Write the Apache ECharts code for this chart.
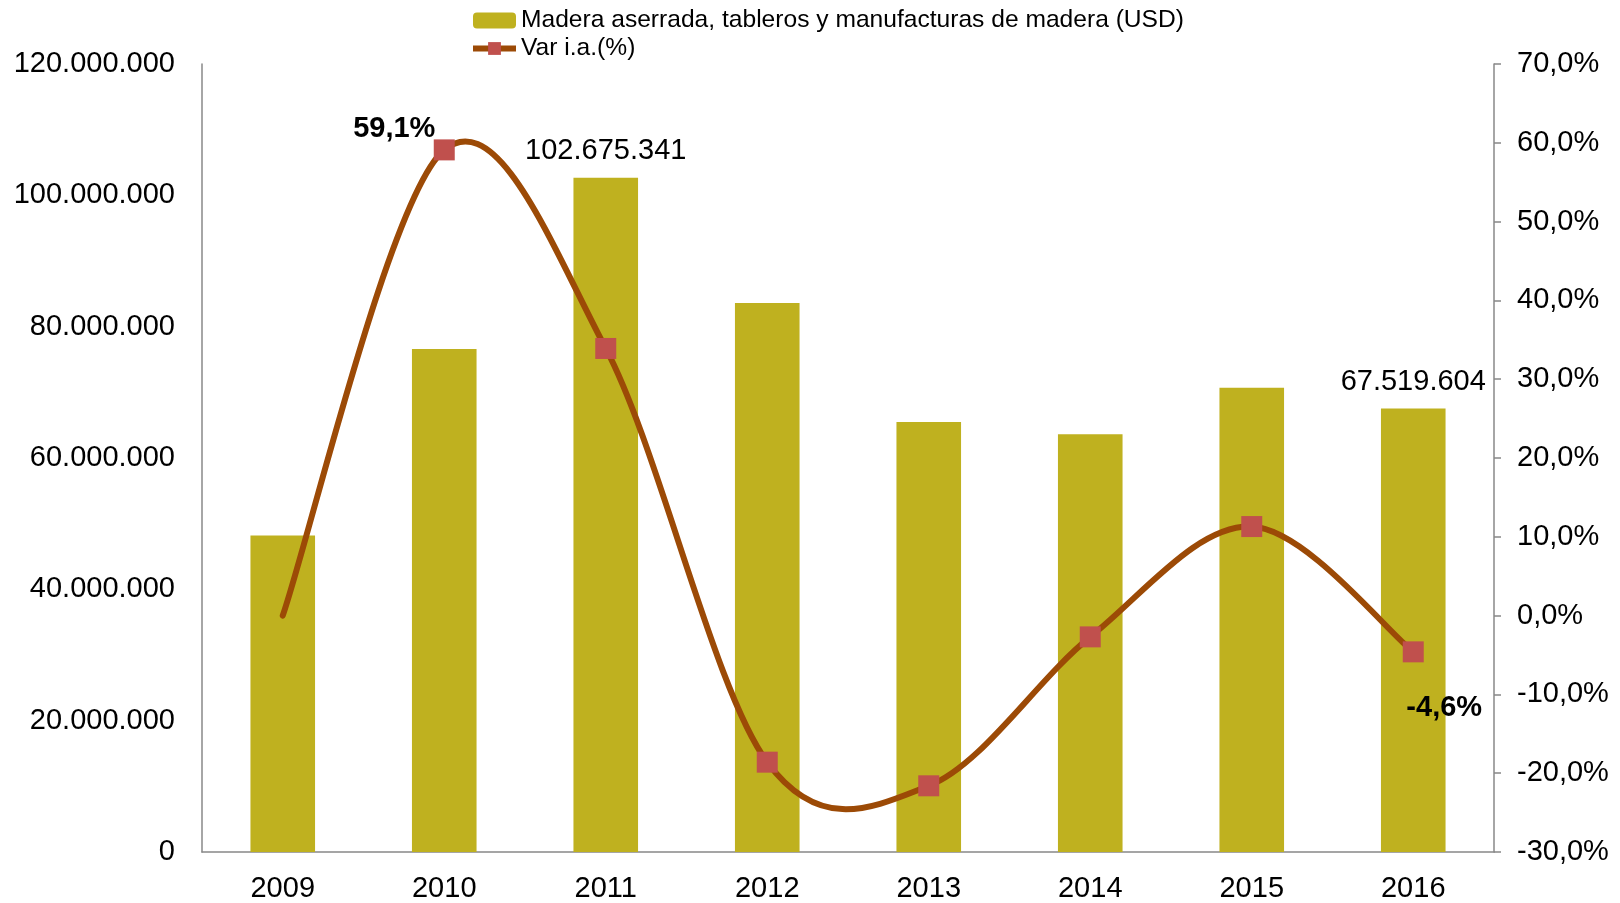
<!DOCTYPE html>
<html lang="es">

<head>
    <meta charset="UTF-8">
    <title>Madera aserrada, tableros y manufacturas de madera</title>
    <script src="https://cdn.jsdelivr.net/npm/echarts@6/dist/echarts.min.js"></script>
    <style>
        html, body { margin: 0; padding: 0; background: #fff; }
        #chart { width: 1620px; height: 903px; }
    </style>
</head>

<body>
    <div id="chart"></div>

    <script>
        // datos
        var years = ['2009', '2010', '2011', '2012', '2013', '2014', '2015', '2016'];
        var exportsUsd = [48200000, 76600000, 102675341, 83600000, 65500000, 63600000, 70700000, 67519604];
        var varPct = [0, 59.1, 33.9, -18.6, -21.6, -2.7, 11.3, -4.6];
        var barName = 'Madera aserrada, tableros y manufacturas de madera (USD)';
        var lineName = 'Var i.a.(%)';

        // puntos de miles con "." y decimal con ","
        function miles(v) {
            return String(Math.round(v)).replace(/\B(?=(\d{3})+(?!\d))/g, '.');
        }
        function pct(v) {
            return v.toFixed(1).replace('.', ',') + '%';
        }

        var font = 'Liberation Sans, Arial, sans-serif';
        var lineColor = '#9C4A06';
        var myChart = echarts.init(document.getElementById('chart'));

        // etiquetas solo en algunos puntos
        var barData = exportsUsd.map(function (v, i) {
            var item = { value: v };
            if (i === 2 || i === 7) {
                item.label = { show: true };
            }
            return item;
        });
        var lineData = varPct.map(function (v, i) {
            var item = { value: v };
            if (i === 0) item.symbol = 'none';
            if (i === 1) item.label = { show: true, position: 'top', offset: [-50, 9] };
            if (i === 7) item.label = { show: true, position: 'bottom', offset: [31, 26] };
            return item;
        });

        // curva suavizada tipo Excel (Catmull-Rom), pasa por las escalas del eje
        function renderCurve(params, api) {
            if (params.dataIndex !== 0) return null;
            var pts = varPct.map(function (v, i) { return api.coord([i, v]); });
            var n = pts.length;
            var d = 'M' + pts[0][0] + ' ' + pts[0][1];
            for (var i = 0; i < n - 1; i++) {
                var p0 = pts[Math.max(i - 1, 0)];
                var p1 = pts[i];
                var p2 = pts[i + 1];
                var p3 = pts[Math.min(i + 2, n - 1)];
                var c1x = p1[0] + (p2[0] - p0[0]) / 6;
                var c1y = p1[1] + (p2[1] - p0[1]) / 6;
                var c2x = p2[0] - (p3[0] - p1[0]) / 6;
                var c2y = p2[1] - (p3[1] - p1[1]) / 6;
                d += ' C' + c1x + ' ' + c1y + ' ' + c2x + ' ' + c2y + ' ' + p2[0] + ' ' + p2[1];
            }
            return {
                type: 'path',
                shape: { pathData: d },
                style: { fill: 'none', stroke: lineColor, lineWidth: 6, lineCap: 'round', lineJoin: 'round' }
            };
        }

        var option = {
            animation: false,
            textStyle: { fontFamily: font },
            legend: {
                orient: 'vertical',
                left: 465,
                top: 3,
                itemWidth: 43,
                itemHeight: 16,
                itemGap: 3,
                textStyle: { fontSize: 24.6, color: '#000', fontFamily: font },
                data: [
                    barName,
                    { name: lineName, lineStyle: { color: lineColor, width: 6, opacity: 1 } }
                ]
            },
            grid: {
                left: 202,
                right: 126,
                top: 64,
                bottom: 50
            },
            xAxis: {
                type: 'category',
                data: years,
                axisLine: { lineStyle: { color: '#888', width: 1.5 } },
                axisTick: { show: false },
                axisLabel: { fontSize: 29, color: '#000', margin: 22, fontFamily: font }
            },
            yAxis: [
                {
                    type: 'value',
                    min: 0,
                    max: 120000000,
                    interval: 20000000,
                    splitLine: { show: false },
                    axisLine: { show: true, lineStyle: { color: '#888', width: 1.5 } },
                    axisTick: { show: false },
                    axisLabel: {
                        fontSize: 29, color: '#000', margin: 27, fontFamily: font,
                        formatter: function (v) { return miles(v); }
                    }
                },
                {
                    type: 'value',
                    min: -30,
                    max: 70,
                    interval: 10,
                    position: 'right',
                    splitLine: { show: false },
                    axisLine: { show: true, lineStyle: { color: '#888', width: 1.5 } },
                    axisTick: { show: true, length: 7, lineStyle: { color: '#888', width: 1.5 } },
                    axisLabel: {
                        fontSize: 29, color: '#000', margin: 23, fontFamily: font,
                        formatter: function (v) { return pct(v); }
                    }
                }
            ],
            series: [
                {
                    name: barName,
                    type: 'bar',
                    yAxisIndex: 0,
                    barWidth: '40%',
                    itemStyle: { color: '#BFB11F' },
                    label: {
                        show: false,
                        position: 'top',
                        distance: 12,
                        fontSize: 29,
                        color: '#000',
                        fontFamily: font,
                        formatter: function (p) { return miles(p.value); }
                    },
                    data: barData
                },
                {
                    name: 'curva',
                    type: 'custom',
                    yAxisIndex: 1,
                    renderItem: renderCurve,
                    silent: true,
                    z: 4,
                    data: varPct.map(function (v, i) { return [i, v]; })
                },
                {
                    name: lineName,
                    type: 'line',
                    yAxisIndex: 1,
                    symbol: 'rect',
                    symbolSize: 21,
                    lineStyle: { color: lineColor, width: 6, opacity: 0 },
                    itemStyle: { color: '#C0504D' },
                    label: {
                        show: false,
                        fontSize: 29,
                        fontWeight: 'bold',
                        color: '#000',
                        fontFamily: font,
                        formatter: function (p) { return pct(p.value); }
                    },
                    z: 5,
                    data: lineData
                }
            ]
        };

        myChart.setOption(option);
    </script>
</body>

</html>
